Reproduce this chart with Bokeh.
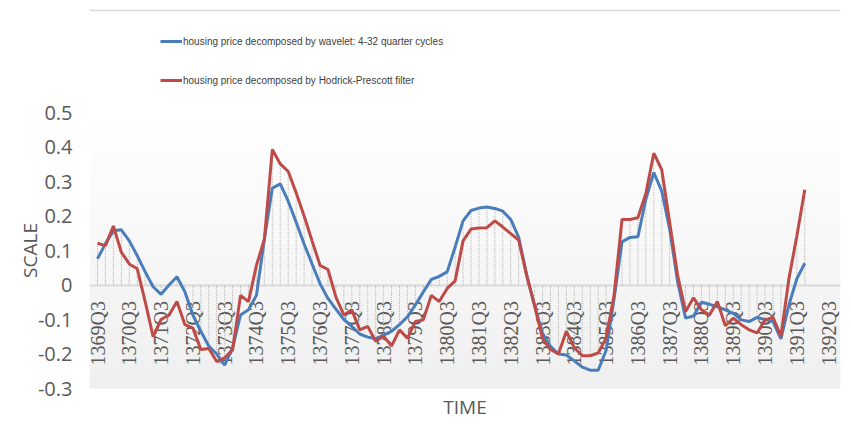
import numpy as np
from bokeh.plotting import figure
from bokeh.layouts import column
from bokeh.models import FixedTicker, Legend, LegendItem, LabelSet, ColumnDataSource
from bokeh.embed import file_html
from bokeh.resources import INLINE

# ---- data ----
quarters = [f"{y}Q{q}" for y in range(1369, 1393) for q in range(1, 5)][2:]  # 1369Q3 .. 1392Q4

wavelet = [0.076, 0.12, 0.157, 0.16, 0.128, 0.085, 0.038, -0.005, -0.027, 0.0,
           0.024, -0.02, -0.087, -0.134, -0.177, -0.2, -0.232, -0.182, -0.087, -0.072,
           -0.03, 0.133, 0.281, 0.293, 0.243, 0.182, 0.119, 0.061, 0.004, -0.039,
           -0.07, -0.1, -0.12, -0.142, -0.151, -0.156, -0.145, -0.134, -0.115, -0.092,
           -0.058, -0.02, 0.016, 0.025, 0.038, 0.11, 0.186, 0.216, 0.223, 0.226,
           0.222, 0.214, 0.19, 0.138, 0.03, -0.06, -0.14, -0.178, -0.2, -0.203,
           -0.22, -0.238, -0.247, -0.247, -0.19, -0.04, 0.125, 0.138, 0.14, 0.248,
           0.326, 0.272, 0.162, 0.009, -0.096, -0.09, -0.05, -0.056, -0.063, -0.072,
           -0.082, -0.101, -0.106, -0.094, -0.1, -0.106, -0.156, -0.058, 0.018, 0.063]

hp_filter = [0.121, 0.114, 0.171, 0.095, 0.061, 0.047, -0.048, -0.15, -0.1, -0.087,
             -0.048, -0.115, -0.125, -0.187, -0.184, -0.222, -0.211, -0.188, -0.03, -0.048,
             0.057, 0.133, 0.393, 0.351, 0.329, 0.267, 0.2, 0.128, 0.057, 0.045,
             -0.035, -0.087, -0.072, -0.13, -0.12, -0.163, -0.148, -0.177, -0.13, -0.154,
             -0.106, -0.101, -0.03, -0.048, -0.01, 0.012, 0.128, 0.162, 0.165, 0.166,
             0.186, 0.168, 0.149, 0.13, 0.028, -0.06, -0.155, -0.187, -0.2, -0.134,
             -0.182, -0.205, -0.205, -0.197, -0.154, -0.03, 0.19, 0.19, 0.195, 0.265,
             0.382, 0.334, 0.181, 0.028, -0.077, -0.037, -0.072, -0.087, -0.048, -0.118,
             -0.096, -0.115, -0.13, -0.139, -0.101, -0.094, -0.149, 0.018, 0.142, 0.276]

tick_step = 4
xtick_labels = quarters[::tick_step]
yticks = [-0.3, -0.2, -0.1, 0, 0.1, 0.2, 0.3, 0.4, 0.5]
ytick_labels = ["-0.3", "-0.2", "-0.1", "0", "0.1", "0.2", "0.3", "0.4", "0.5"]

label_wave = "housing price decomposed by wavelet: 4-32 quarter cycles"
label_hp = "housing price decomposed by Hodrick-Prescott filter"
blue, red = "#4A7EBB", "#BE4B48"

# ---- layout ----
W = 843
TOP_H = 100           # legend strip above the plot
PAD_TOP = 12          # room above the 0.5 tick label
H = 422 - TOP_H       # plot figure
LEFT, RIGHT, BOTTOM = 89, 3, 31
CAT0_PX = 8           # first category centre, px right of frame edge
frame_w = W - LEFT - RIGHT
px_per_cat = 7.947
x_start = -CAT0_PX / px_per_cat

n_cat = len(quarters)
xs = np.arange(len(wavelet))

# ---------- top strip with legend ----------
top = figure(width=W, height=TOP_H, output_backend="svg", toolbar_location=None,
             x_range=(-200, -199), y_range=(0, 1),
             min_border_left=0, min_border_right=0, min_border_top=0, min_border_bottom=0)
top.axis.visible = False
top.grid.visible = False
top.outline_line_color = None
top.background_fill_color = "white"
top.border_fill_color = "white"
top.hspan(y=[1 - 10 / TOP_H], line_color="#d9d9d9", line_width=1.5)
# legend proxies (same series, outside this strip's visible range)
lb = top.line(xs, wavelet, line_color=blue, line_width=3)
lr = top.line(xs, hp_filter, line_color=red, line_width=3)

# ---------- plot ----------
p = figure(width=W, height=H, output_backend="svg", toolbar_location=None,
           x_range=(x_start, x_start + frame_w / px_per_cat), y_range=(-0.3, 0.5),
           min_border_left=LEFT, min_border_right=RIGHT,
           min_border_top=PAD_TOP, min_border_bottom=BOTTOM)
p.outline_line_color = None
p.background_fill_color = "white"
p.border_fill_color = "white"
p.xgrid.visible = False
p.ygrid.visible = False

# gradient plot-area background
nb = 40
edges = np.linspace(-0.3, 0.5, nb + 1)
cols = []
for i in range(nb):
    t = (i + 0.5) / nb  # 0 bottom -> 1 top
    g = int(round(239 + (255 - 239) * t))
    cols.append(f"#{g:02x}{g:02x}{g:02x}")
bg = p.hstrip(y0=edges[:-1], y1=edges[1:], fill_color=cols, line_color=cols, line_width=1)
bg.level = "underlay"

# category labels next to the zero axis
tick_idx = np.arange(0, n_cat, tick_step)
lab_src = ColumnDataSource(dict(x=tick_idx, y=np.zeros(len(tick_idx)), text=xtick_labels))
labels = LabelSet(x="x", y="y", text="text", source=lab_src, angle=np.pi / 2,
                  text_align="right", text_baseline="middle", y_offset=-16,
                  text_font="Open Sans", text_font_size="20px", text_color="#595959",
                  level="underlay")
p.add_layout(labels)

# zero axis line
p.hspan(y=[0], line_color="#d9d9d9", line_width=2)

# drop lines
tops = np.maximum(np.array(wavelet), np.array(hp_filter))
p.segment(x0=xs, y0=np.zeros(len(xs)), x1=xs, y1=tops,
          line_color="#b5b5b5", line_width=1, line_dash="1 1")

p.line(xs, wavelet, line_color=blue, line_width=3)
p.line(xs, hp_filter, line_color=red, line_width=3)

# y axis
ya = p.yaxis[0]
ya.ticker = FixedTicker(ticks=yticks)
ya.major_label_overrides = {t: l for t, l in zip(yticks, ytick_labels)}
ya.axis_line_color = None
ya.major_tick_line_color = None
ya.minor_tick_line_color = None
ya.major_tick_out = 0
ya.major_tick_in = 0
ya.minor_tick_out = 0
ya.major_label_text_font = "Open Sans"
ya.major_label_text_font_size = "20px"
ya.major_label_text_color = "#595959"
ya.major_label_standoff = 17
ya.axis_label = "SCALE"
ya.axis_label_text_font = "Open Sans"
ya.axis_label_text_font_style = "normal"
ya.axis_label_text_font_size = "19px"
ya.axis_label_text_color = "#595959"
ya.axis_label_standoff = -8

# x axis: only its title
xa = p.xaxis[0]
xa.ticker = FixedTicker(ticks=[])
xa.axis_line_color = None
xa.major_tick_line_color = None
xa.minor_tick_line_color = None
xa.major_tick_out = 0
xa.major_tick_in = 0
xa.minor_tick_out = 0
xa.major_label_standoff = 0
xa.major_label_text_font_size = "0px"
xa.axis_label = "TIME"
xa.axis_label_text_font = "Open Sans"
xa.axis_label_text_font_style = "normal"
xa.axis_label_text_font_size = "19px"
xa.axis_label_text_color = "#595959"
xa.axis_label_standoff = 5

# legend (top strip frame is aligned with the plot frame)
legend = Legend(items=[LegendItem(label=label_wave, renderers=[lb]),
                       LegendItem(label=label_hp, renderers=[lr])],
                location=(160 - LEFT, 10), orientation="vertical",
                glyph_width=22, glyph_height=20, label_height=20,
                label_standoff=1, spacing=19, padding=0, margin=0,
                border_line_color=None, background_fill_alpha=0,
                label_text_font="Liberation Sans", label_text_font_size="10px",
                label_text_color="#404040")
top.add_layout(legend)

page = column(top, p, spacing=0)
open("out.html", "w").write(file_html(page, INLINE))
